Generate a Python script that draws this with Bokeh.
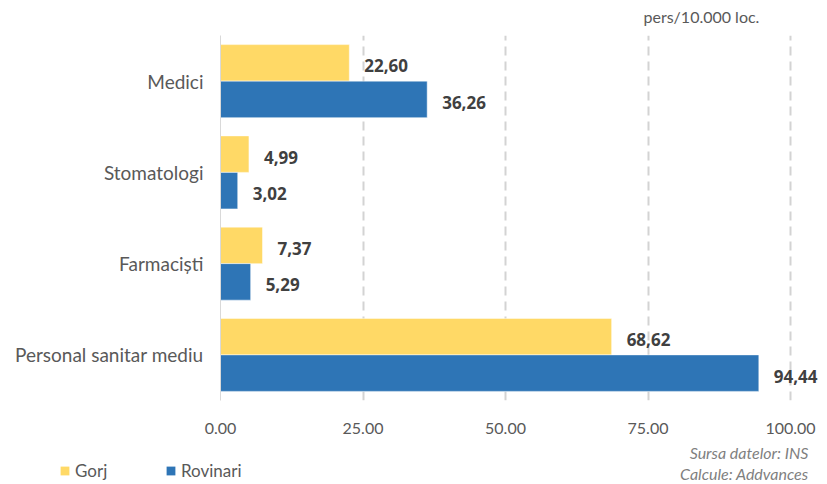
from bokeh.plotting import figure
from bokeh.layouts import column
from bokeh.core.properties import value
from bokeh.models import (ColumnDataSource, FactorRange, Range1d, NumeralTickFormatter,
                          FixedTicker, LabelSet, Label, Legend, LegendItem)
from bokeh.transform import dodge
from bokeh.embed import file_html
from bokeh.resources import INLINE

categories = ["Medici", "Stomatologi", "Farmaciști", "Personal sanitar mediu"]
gorj = [22.60, 4.99, 7.37, 68.62]
rovinari = [36.26, 3.02, 5.29, 94.44]
x_ticks = [0, 25, 50, 75, 100]
series_names = ["Gorj", "Rovinari"]
series_colors = ["#FFD966", "#2E75B6"]
unit_text = "pers/10.000 loc."
source_lines = ["Sursa datelor: INS", "Calcule: Addvances"]

FONT = "Lato"
BOLD_FONT = "Open Sans"
GREY = "#595959"

def fmt(v):
    return f"{v:.2f}".replace(".", ",")

src = ColumnDataSource(dict(
    cat=categories,
    gorj=gorj,
    rovinari=rovinari,
    gorj_lbl=[fmt(v) for v in gorj],
    rov_lbl=[fmt(v) for v in rovinari],
))

def strip(height):
    f = figure(width=827, height=height, output_backend="svg", toolbar_location=None,
               x_range=Range1d(0, 827), y_range=Range1d(0, height),
               x_axis_location=None, y_axis_location=None)
    f.frame_align = False
    f.min_border = 0
    f.min_border_left = 0
    f.min_border_right = 0
    f.min_border_top = 0
    f.min_border_bottom = 0
    f.outline_line_color = None
    f.xgrid.visible = False
    f.ygrid.visible = False
    f.background_fill_color = "white"
    f.border_fill_color = "white"
    return f

# ---------------- unit strip (top) ----------------
top = strip(35)
top.add_layout(Label(x=643, y=19, text=unit_text, text_align="left", text_baseline="middle",
                     text_font=FONT, text_font_size="16px", text_color=GREY))

# ---------------- main chart ----------------
p = figure(width=827, height=405, output_backend="svg", toolbar_location=None,
           y_range=FactorRange(factors=list(reversed(categories)), range_padding=0),
           x_range=Range1d(0, 106.49))
p.frame_align = False
p.min_border_left = 220
p.min_border_right = 0
p.min_border_top = 0
p.min_border_bottom = 40
p.outline_line_color = None
p.background_fill_color = "white"
p.border_fill_color = "white"

rg = p.hbar(y=dodge("cat", 0.2, range=p.y_range), right="gorj", height=0.4, left=0,
            source=src, fill_color=series_colors[0], line_color="white",
            line_alpha=0.6, line_width=0.8)
rr = p.hbar(y=dodge("cat", -0.2, range=p.y_range), right="rovinari", height=0.4, left=0,
            source=src, fill_color=series_colors[1], line_color="white",
            line_alpha=0.6, line_width=0.8)

for col, lbl, off in (("gorj", "gorj_lbl", 0.2), ("rovinari", "rov_lbl", -0.2)):
    ls = LabelSet(x=col, y=dodge("cat", off, range=p.y_range), text=lbl, source=src,
                  x_offset=15, y_offset=-3, text_baseline="middle", text_align="left",
                  text_font=value(BOLD_FONT), text_font_style="bold",
                  text_font_size="17px", text_color="#404040")
    p.add_layout(ls)

p.xaxis.ticker = FixedTicker(ticks=x_ticks)
p.xaxis.formatter = NumeralTickFormatter(format="0.00")
p.xaxis.axis_line_color = None
p.xaxis.major_tick_line_color = None
p.xaxis.minor_tick_line_color = None
p.xaxis.major_label_text_font = FONT
p.xaxis.major_label_text_font_size = "16px"
p.xaxis.major_label_text_color = GREY
p.xaxis.major_label_standoff = 16

p.yaxis.axis_line_color = "#D9D9D9"
p.yaxis.major_tick_line_color = None
p.yaxis.minor_tick_line_color = None
p.yaxis.major_label_text_font = FONT
p.yaxis.major_label_text_font_size = "19px"
p.yaxis.major_label_text_color = GREY
p.yaxis.major_label_standoff = 11

p.ygrid.grid_line_color = None
p.xgrid.ticker = FixedTicker(ticks=x_ticks[1:])
p.xgrid.grid_line_color = "#D3D3D3"
p.xgrid.grid_line_width = 2
p.xgrid.grid_line_dash = "9 6"

# ---------------- legend / source strip (bottom) ----------------
q = strip(44)
lg_src = ColumnDataSource(dict(y=[float("nan")], right=[float("nan")]))
dg = q.hbar(y="y", right="right", height=1, source=lg_src,
            fill_color=series_colors[0], line_color=None)
dr = q.hbar(y="y", right="right", height=1, source=lg_src,
            fill_color=series_colors[1], line_color=None)
legend = Legend(items=[LegendItem(label=series_names[0], renderers=[dg]),
                       LegendItem(label=series_names[1], renderers=[dr])],
                location=(59, 3), orientation="horizontal",
                glyph_width=11, glyph_height=11, label_standoff=5, spacing=5,
                label_width=85, padding=0, margin=0, border_line_color=None,
                background_fill_alpha=0,
                label_text_font=FONT, label_text_font_size="17px",
                label_text_color=GREY, label_height=20)
q.add_layout(legend)

for t, yy in zip(source_lines, (32, 11)):
    q.add_layout(Label(x=808, y=yy, text=t, text_align="right", text_baseline="middle",
                       text_font=FONT, text_font_style="italic", text_font_size="16px",
                       text_color="#7F7F7F"))

layout = column(top, p, q, spacing=0)
open("out.html", "w").write(file_html(layout, INLINE))
